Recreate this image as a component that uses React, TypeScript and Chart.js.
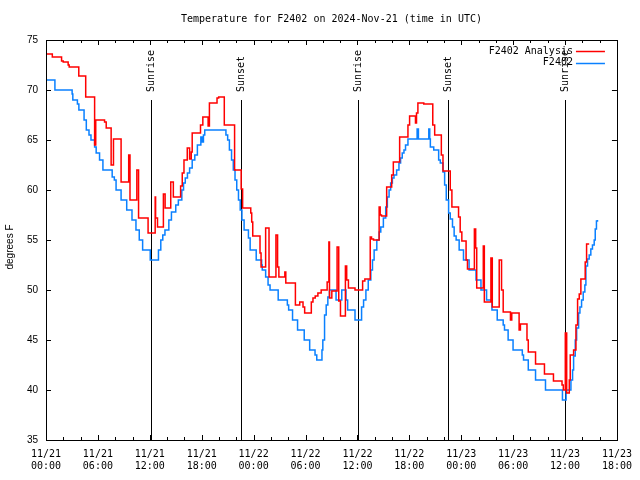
import React, { useEffect, useRef } from 'react';
import { Chart, registerables } from 'chart.js';

Chart.register(...registerables);

const TITLE = 'Temperature for F2402 on 2024-Nov-21 (time in UTC)';
const Y_LABEL = 'degrees F';

const xTickLabels: string[][] = [
  ['11/21', '00:00'], ['11/21', '06:00'], ['11/21', '12:00'], ['11/21', '18:00'],
  ['11/22', '00:00'], ['11/22', '06:00'], ['11/22', '12:00'], ['11/22', '18:00'],
  ['11/23', '00:00'], ['11/23', '06:00'], ['11/23', '12:00'], ['11/23', '18:00'],
];
const X_MIN = 0;
const X_MAX = 66;
const X_MINOR_STEP = 2;
const X_MAJOR_STEP = 6;
const Y_MIN = 35;
const Y_MAX = 75;
const Y_STEP = 5;

const sunHours = [12.08, 22.52, 36.06, 46.52, 60.03];
const sunLabels = ['Sunrise', 'Sunset', 'Sunrise', 'Sunset', 'Sunrise'];

const seriesLabels = ['F2402 Analysis', 'F2402'];
const seriesColors = ['#ff0000', '#0a80ff'];

// hours since 11/21 00:00 UTC; each value holds until the next time
const analysisHours = [
  0, 0.73, 1.8, 1.99, 2.56, 2.68, 3.79, 4.59, 5.62, 5.75, 6.77, 6.96, 7.53, 7.8, 8.68, 9.56, 9.71,
  10.5, 10.7, 11.8, 12.62, 12.67, 12.89, 13.57, 13.77, 14.42, 14.72, 15.56, 15.75, 15.95, 16.33,
  16.6, 16.79, 16.9, 17.86, 18.13, 18.74, 18.89, 19.77, 19.96, 20.61, 21.8, 22.56, 22.73, 23.67,
  23.78, 23.9, 24.74, 24.86, 25.39, 25.78, 26.58, 26.77, 26.92, 27.61, 27.72, 28.83, 29.33, 29.71,
  29.9, 30.67, 30.86, 31.12, 31.43, 31.81, 32.5, 32.7, 32.77, 33.04, 33.65, 33.84, 34.04, 34.61,
  34.76, 34.96, 35.72, 36.6, 36.86, 37.48, 37.63, 37.86, 38.51, 38.63, 38.78, 39.38, 39.96, 40.15,
  40.88, 41.84, 42.03, 42.71, 42.83, 42.99, 43.67, 44.71, 44.93, 45.7, 45.89, 46.73, 46.92, 47.69,
  47.88, 48.07, 48.56, 48.72, 49.52, 49.67, 49.79, 50.55, 50.67, 51.43, 51.59, 52.39, 52.66, 52.85,
  53.69, 53.84, 54.69, 54.84, 55.6, 55.75, 56.59, 57.62, 58.66, 59.65, 59.8, 60.03, 60.19, 60.49,
  60.6, 60.99, 61.26, 61.45, 61.64, 61.83, 62.33, 62.49, 62.79,
];
const analysisTemps = [
  73.6, 73.3, 72.9, 72.8, 72.5, 72.3, 71.4, 69.3, 64.5, 67.0, 66.8, 66.2, 62.5, 65.1, 60.8, 63.5, 59.0,
  62.0, 57.2, 55.7, 59.3, 57.2, 56.3, 59.6, 58.2, 60.8, 59.3, 60.4, 61.7, 63.0, 64.2,
  63.1, 63.8, 65.7, 66.5, 67.3, 66.4, 68.7, 69.2, 69.3, 66.5, 62.0, 60.1, 58.2, 57.7,
  56.8, 55.4, 53.7, 52.3, 56.2, 51.3, 55.5, 52.3, 51.3, 51.8, 50.7, 48.5, 48.8, 48.3,
  47.7, 48.8, 49.2, 49.4, 49.7, 50.0, 50.8, 54.8, 49.2, 49.9, 54.3, 48.9, 47.4, 52.4,
  51.0, 50.2, 50.0, 50.9, 51.1, 55.3, 55.1, 55.0, 58.3, 57.5, 57.4, 60.3, 61.5, 62.8,
  65.3, 66.5, 67.4, 66.7, 67.7, 68.7, 68.6, 66.5, 65.5, 63.5, 61.9, 60.0, 58.3, 57.3,
  55.8, 54.9, 53.0, 52.1, 56.1, 54.2, 50.2, 54.4, 48.8, 53.2, 48.3, 53.0, 50.0, 47.8,
  47.0, 47.7, 46.0, 46.6, 45.0, 43.8, 42.6, 41.6, 40.9, 40.5, 40.0, 45.7, 39.7, 41.0,
  43.5, 44.0, 46.5, 49.1, 49.6, 51.1, 52.8, 54.6, 54.6,
];

const obsHours = [
  0, 1.03, 3.02, 3.1, 3.63, 3.8, 4.4, 4.66, 4.97, 5.2, 5.62, 5.8, 6.19, 6.58, 7.65, 7.9, 8.1, 8.68,
  9.33, 9.94, 10.4, 10.78, 11.17, 12.05, 13.0, 13.27, 13.5, 13.75, 14.2, 14.5, 15.0, 15.3, 15.7,
  15.9, 16.1, 16.35, 16.6, 16.9, 17.2, 17.5, 17.9, 18.05, 18.2, 18.35, 20.8, 21.0, 21.2, 21.45,
  21.65, 21.85, 22.05, 22.25, 22.45, 22.65, 22.9, 23.4, 23.6, 24.3, 24.93, 25.0, 25.39, 25.67, 25.9,
  26.84, 27.9, 28.05, 28.5, 29.08, 29.85, 30.48, 31.1, 31.3, 31.9, 32.0, 32.2, 32.39, 32.58, 32.77,
  33.53, 34.19, 34.68, 34.87, 35.72, 36.48, 36.71, 36.98, 37.25, 37.55, 37.74, 37.93, 38.24, 38.51,
  38.7, 39.0, 39.27, 39.46, 39.66, 39.84, 40.04, 40.23, 40.53, 40.8, 40.99, 41.18, 41.38, 41.56,
  41.84, 42.9, 43.05, 44.25, 44.36, 44.43, 44.82, 45.39, 45.58, 45.89, 46.08, 46.27, 46.54, 46.73,
  46.99, 47.18, 47.41, 47.76, 48.26, 48.91, 49.71, 50.28, 50.93, 51.55, 52.16, 52.85, 53.0, 53.42,
  53.99, 55.06, 55.2, 55.75, 56.59, 57.74, 59.7, 60.12, 60.68, 60.87, 60.99, 61.18, 61.34, 61.57,
  61.72, 61.91, 62.1, 62.29, 62.41, 62.6, 62.79, 62.98, 63.17, 63.37, 63.49, 63.63, 63.75,
];
const obsTemps = [
  71.0, 70.0, 69.6, 69.0, 68.6, 68.0, 67.0, 66.0, 65.5, 65.0, 64.3, 63.7, 63.0, 62.0, 61.3, 61.0, 60.0, 59.0,
  58.0, 57.0, 56.0, 55.0, 54.0, 53.0, 54.0, 55.0, 55.5, 56.0, 57.0, 57.8, 58.5, 59.0, 60.0,
  60.7, 61.2, 61.7, 62.2, 63.0, 63.5, 64.5, 65.3, 64.8, 65.5, 66.0, 65.5, 65.0, 64.0, 63.0,
  62.0, 61.0, 60.0, 59.0, 58.0, 57.0, 56.0, 55.2, 54.0, 53.0, 52.5, 52.0, 51.3, 50.5, 50.0,
  49.0, 48.5, 48.0, 47.0, 46.0, 45.0, 44.0, 43.5, 43.0, 44.0, 45.0, 47.5, 48.5, 49.3, 50.0,
  49.0, 50.0, 49.0, 48.0, 47.0, 48.3, 49.0, 50.0, 51.0, 52.0, 53.0, 54.0, 55.0, 55.8,
  56.3, 57.2, 58.3, 59.3, 60.0, 60.7, 61.2, 61.5, 62.0, 62.7, 63.2, 63.7, 64.0, 64.5,
  65.1, 66.1, 65.1, 66.1, 65.1, 64.3, 64.0, 63.0, 62.7, 61.8, 60.5, 59.0, 57.7, 57.1,
  56.3, 55.4, 55.0, 54.0, 53.0, 52.0, 51.0, 50.0, 49.0, 48.0, 47.0, 46.5, 46.0, 45.0,
  44.0, 43.5, 43.0, 42.0, 41.0, 40.0, 39.0, 40.0, 41.0, 42.0, 43.4, 45.0, 46.2, 47.7,
  48.3, 49.0, 49.8, 50.5, 52.4, 53.1, 53.5, 54.1, 54.5, 55.0, 56.1, 56.9, 57.0,
];

const MONO = '"DejaVu Sans Mono", monospace';
const SANS = '"Liberation Sans", Arial, sans-serif';

const gnuplotOverlay = {
  id: 'gnuplotOverlay',
  beforeDatasetsDraw(chart: any) {
    const { ctx, chartArea: a, scales } = chart;
    const x = scales.x;
    const h = a.bottom - a.top;
    ctx.save();
    ctx.strokeStyle = '#000';
    ctx.fillStyle = '#000';
    ctx.lineWidth = 1;
    ctx.font = `10px ${MONO}`;
    sunHours.forEach((t, i) => {
      const px = Math.round(x.getPixelForValue(t)) + 0.5;
      ctx.beginPath();
      ctx.moveTo(px, a.bottom - 0.85 * h);
      ctx.lineTo(px, a.bottom);
      ctx.stroke();
      ctx.save();
      ctx.translate(px, a.bottom - 0.87 * h);
      ctx.rotate(-Math.PI / 2);
      ctx.textAlign = 'left';
      ctx.textBaseline = 'middle';
      ctx.fillText(sunLabels[i], 0, 0);
      ctx.restore();
    });
    ctx.restore();
  },
  afterDraw(chart: any) {
    const { ctx, chartArea: a, scales } = chart;
    const x = scales.x;
    const y = scales.y;
    ctx.save();
    ctx.strokeStyle = '#000';
    ctx.fillStyle = '#000';
    ctx.lineWidth = 1;
    // border
    ctx.strokeRect(Math.round(a.left) + 0.5, Math.round(a.top) + 0.5, Math.round(a.right - a.left), Math.round(a.bottom - a.top));
    // x ticks (inward, mirrored)
    ctx.beginPath();
    x.ticks.forEach((tk: any) => {
      const px = Math.round(x.getPixelForValue(tk.value)) + 0.5;
      const len = tk.value % X_MAJOR_STEP === 0 ? 5 : 3;
      ctx.moveTo(px, a.bottom);
      ctx.lineTo(px, a.bottom - len);
      ctx.moveTo(px, a.top);
      ctx.lineTo(px, a.top + len);
    });
    y.ticks.forEach((tk: any) => {
      const py = Math.round(y.getPixelForValue(tk.value)) + 0.5;
      ctx.moveTo(a.left, py);
      ctx.lineTo(a.left + 5, py);
      ctx.moveTo(a.right, py);
      ctx.lineTo(a.right - 5, py);
    });
    ctx.stroke();
    // title
    ctx.font = `10px ${MONO}`;
    ctx.textAlign = 'center';
    ctx.textBaseline = 'middle';
    ctx.fillText(TITLE, (a.left + a.right) / 2, 19);
    // y label
    ctx.save();
    ctx.font = `10px ${SANS}`;
    ctx.translate(10, 247);
    ctx.rotate(-Math.PI / 2);
    ctx.fillText(Y_LABEL, 0, 0);
    ctx.restore();
    // legend
    ctx.font = `10px ${MONO}`;
    ctx.textAlign = 'right';
    chart.data.datasets.forEach((ds: any, i: number) => {
      const ly = a.top + 11 + i * 11.5;
      ctx.fillStyle = '#000';
      ctx.fillText(ds.label, a.right - 44, ly);
      ctx.strokeStyle = ds.borderColor;
      ctx.lineWidth = 1.5;
      ctx.beginPath();
      ctx.moveTo(a.right - 41, Math.round(ly) + 0.5);
      ctx.lineTo(a.right - 12, Math.round(ly) + 0.5);
      ctx.stroke();
    });
    ctx.restore();
  },
};

function toPoints(hours: number[], temps: number[]) {
  return hours.map((hr, i) => ({ x: hr, y: temps[i] }));
}

export default function App() {
  const ref = useRef<HTMLCanvasElement>(null);
  useEffect(() => {
    document.body.style.margin = '0';
    const canvas = ref.current;
    if (!canvas) return;
    const chart = new Chart(canvas, {
      type: 'line',
      data: {
        datasets: [
          {
            label: seriesLabels[0],
            data: toPoints(analysisHours, analysisTemps),
            borderColor: seriesColors[0],
            borderWidth: 1.5,
            pointRadius: 0,
            stepped: true,
            fill: false,
          },
          {
            label: seriesLabels[1],
            data: toPoints(obsHours, obsTemps),
            borderColor: seriesColors[1],
            borderWidth: 1.5,
            pointRadius: 0,
            stepped: true,
            fill: false,
          },
        ],
      },
      options: {
        animation: false,
        responsive: false,
        devicePixelRatio: 1,
        layout: { padding: { top: 40, right: 19, bottom: 0, left: 0 } },
        plugins: {
          legend: { display: false },
          title: { display: false },
          tooltip: { enabled: false },
        },
        scales: {
          x: {
            type: 'linear',
            min: X_MIN,
            max: X_MAX,
            grid: { display: false, drawTicks: false },
            border: { display: false },
            ticks: {
              stepSize: X_MINOR_STEP,
              autoSkip: false,
              maxRotation: 0,
              minRotation: 0,
              padding: 8,
              color: '#000',
              font: { family: MONO, size: 10 },
              callback: (v: any) => {
                const n = Number(v);
                return n % X_MAJOR_STEP === 0 ? xTickLabels[n / X_MAJOR_STEP] : '';
              },
            },
            afterFit: (s: any) => { s.height = 40; },
          },
          y: {
            type: 'linear',
            min: Y_MIN,
            max: Y_MAX,
            grid: { display: false, drawTicks: false },
            border: { display: false },
            ticks: {
              stepSize: Y_STEP,
              padding: 8,
              color: '#000',
              font: { family: SANS, size: 10 },
            },
            afterFit: (s: any) => { s.width = 46; },
          },
        },
      },
      plugins: [gnuplotOverlay],
    });
    return () => chart.destroy();
  }, []);
  return (
    <div style={{ width: 640, height: 480 }}>
      <canvas ref={ref} width={640} height={480} />
    </div>
  );
}
